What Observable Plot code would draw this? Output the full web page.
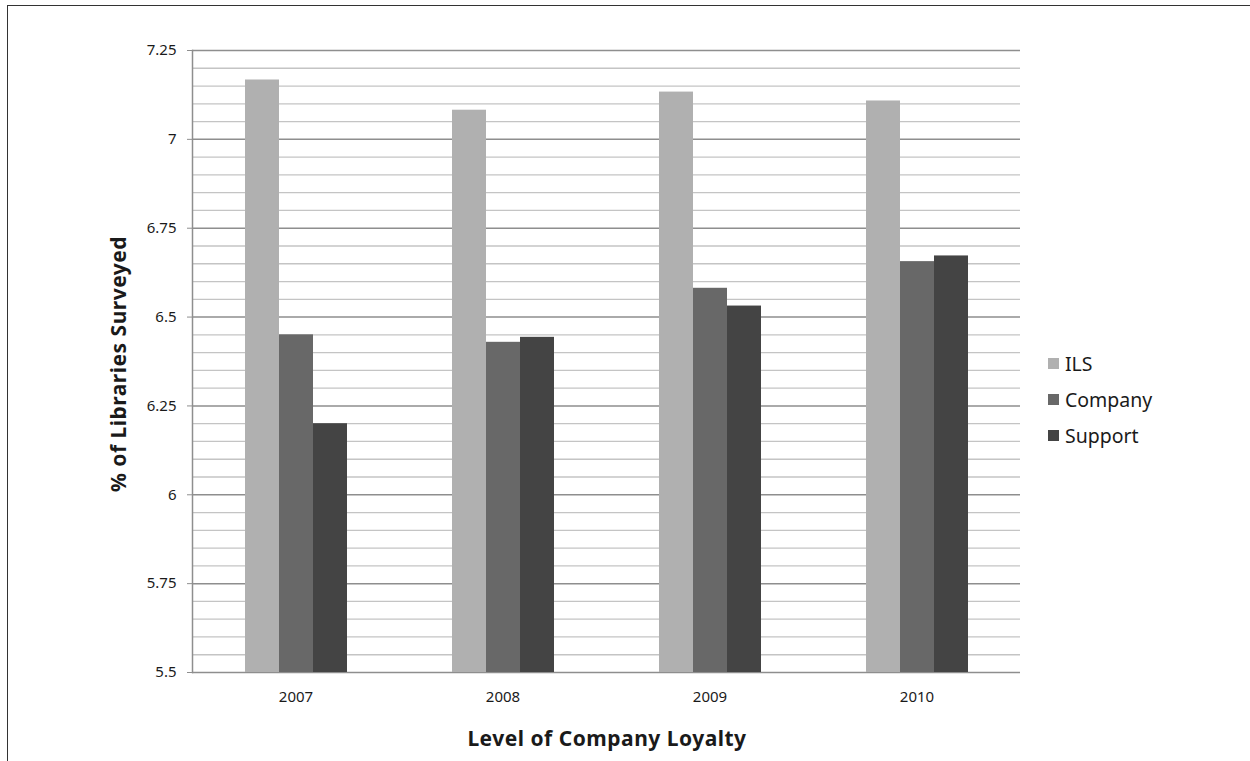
<!DOCTYPE html>
<html>
<head>
<meta charset="utf-8">
<script src="https://cdn.jsdelivr.net/npm/d3@7"></script>
<script src="https://cdn.jsdelivr.net/npm/@observablehq/plot@0.6"></script>
<style>
  html, body { margin: 0; padding: 0; background: #fff; }
  #wrap { position: relative; width: 1250px; height: 761px; overflow: hidden; font-family: "Noto Sans", "Open Sans", sans-serif; color: #1a1a1a; }
  #border { position: absolute; left: 7px; top: 5px; width: 1300px; height: 800px; border-top: 1.5px solid #333; border-left: 1.5px solid #333; box-sizing: border-box; }
  #chart { position: absolute; left: 0; top: 0; }
  .ytitle { position: absolute; left: 118px; top: 364px; transform: translate(-50%, -50%) rotate(-90deg); font-weight: bold; font-size: 21px; letter-spacing: 0.5px; white-space: nowrap; }
  .xtitle { position: absolute; left: 607px; top: 738px; transform: translate(-50%, -50%); font-weight: bold; font-size: 21px; letter-spacing: 0.5px; white-space: nowrap; }
  .legend { position: absolute; left: 1048px; top: 345px; font-size: 19.5px; }
  .legend div { display: flex; align-items: center; height: 36px; }
  .legend span.sw { display: inline-block; width: 11px; height: 11px; margin-right: 6px; }
</style>
</head>
<body>
<div id="wrap">
  <div id="border"></div>
  <div id="chart"></div>
  <div class="ytitle">% of Libraries Surveyed</div>
  <div class="xtitle">Level of Company Loyalty</div>
  <div class="legend" id="legend"></div>
</div>
<script>
// Survey results per year, three measures each
const years = ["2007", "2008", "2009", "2010"];
const series = ["ILS", "Company", "Support"];
const ilsValues = [7.167, 7.082, 7.133, 7.108];
const companyValues = [6.45, 6.429, 6.581, 6.656];
const supportValues = [6.20, 6.443, 6.531, 6.672];
const colors = ["#b0b0b0", "#686868", "#444444"];

const majorTicks = [5.5, 5.75, 6, 6.25, 6.5, 6.75, 7, 7.25];
const minorTicks = d3.range(0, 36).map(i => +(5.5 + i * 0.05).toFixed(2))
  .filter(v => !majorTicks.some(m => Math.abs(m - v) < 1e-9));

const valuesBySeries = [ilsValues, companyValues, supportValues];
const rows = years.flatMap((year, i) =>
  series.map((s, j) => ({year, series: s, value: valuesBySeries[j][i]})));

const chart = Plot.plot({
  width: 1250,
  height: 761,
  marginLeft: 192,
  marginRight: 230,
  marginTop: 50,
  marginBottom: 89,
  style: {fontFamily: "'Noto Sans', 'Open Sans', sans-serif", fontSize: "15px", color: "#1a1a1a", background: "transparent"},
  fx: {domain: years, paddingInner: 0, paddingOuter: 0, label: null},
  x: {domain: series, paddingInner: 0, paddingOuter: 1.5, axis: null},
  y: {domain: [5.5, 7.25], label: null},
  color: {domain: series, range: colors},
  marks: [
    Plot.ruleY(minorTicks, {stroke: "#c4c4c4", strokeWidth: 1.3}),
    Plot.ruleY(majorTicks, {stroke: "#8e8e8e", strokeWidth: 1.5}),
    Plot.barY(rows, {fx: "year", x: "series", y1: 5.5, y2: "value", fill: "series", inset: 0}),
    Plot.axisY({ticks: majorTicks, tickSize: 5, tickPadding: 11, tickFormat: d => String(d), stroke: "#8e8e8e", fontSize: 15, label: null}),
    Plot.frame({anchor: "left", facetAnchor: "left", stroke: "#8e8e8e", strokeWidth: 1.5}),
    Plot.axisFx({anchor: "bottom", tickSize: 0, tickPadding: 19, fontSize: 15, label: null})
  ]
});
document.getElementById("chart").appendChild(chart);

const legend = document.getElementById("legend");
series.forEach((s, i) => {
  const row = document.createElement("div");
  const sw = document.createElement("span");
  sw.className = "sw";
  sw.style.background = colors[i];
  row.appendChild(sw);
  row.appendChild(document.createTextNode(s));
  legend.appendChild(row);
});
</script>
</body>
</html>
